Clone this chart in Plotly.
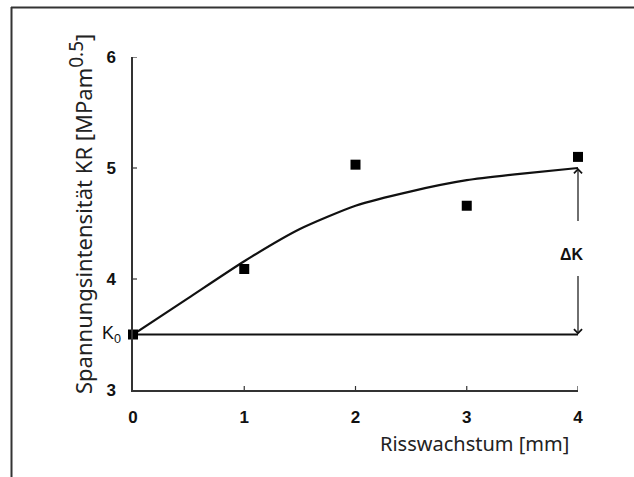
import plotly.graph_objects as go

# Data
meas_x = [0, 1, 2, 3, 4]
meas_y = [3.5, 4.09, 5.03, 4.66, 5.10]

curve_x = [0, 0.5, 1, 1.5, 2, 2.5, 3, 3.5, 4]
curve_y = [3.5, 3.83, 4.16, 4.45, 4.66, 4.79, 4.89, 4.95, 5.00]

k0 = 3.5
k_end = 5.00
base_x = [0, 4]

x_ticks = [0, 1, 2, 3, 4]
y_ticks = [3, 4, 5, 6]

x_title = "Risswachstum [mm]"
y_title = "Spannungsintensität KR [MPam<sup><span style='font-size:19px'>0.5</span></sup>]"

W, H = 634, 477
L, R, T, B = 133, 56, 57, 87
pw = W - L - R
ph = H - T - B

def px_to_paper_x(px):
    return (px - L) / pw

def px_to_paper_y(py):
    return (H - B - py) / ph

line_col = "#111111"
axis_col = "#333333"

fig = go.Figure()

fig.add_trace(go.Scatter(x=base_x, y=[k0, k0], mode="lines",
                         line=dict(color=line_col, width=2), cliponaxis=False,
                         hoverinfo="skip", showlegend=False))
fig.add_trace(go.Scatter(x=curve_x, y=curve_y, mode="lines",
                         line=dict(color=line_col, width=2.2, shape="spline", smoothing=0.6),
                         cliponaxis=False, showlegend=False))
fig.add_trace(go.Scatter(x=meas_x, y=meas_y, mode="markers",
                         marker=dict(symbol="square", size=10, color="black"),
                         cliponaxis=False, showlegend=False))

shapes = []
# crossing tick marks
for v in x_ticks[1:]:
    shapes.append(dict(type="line", xref="x", yref="y", ysizemode="pixel", yanchor=y_ticks[0],
                       x0=v, x1=v, y0=-4, y1=4, line=dict(color=axis_col, width=1.2)))
for v in y_ticks[1:]:
    shapes.append(dict(type="line", xref="x", yref="y", xsizemode="pixel", xanchor=x_ticks[0],
                       y0=v, y1=v, x0=-4, x1=4, line=dict(color=axis_col, width=1.2)))
# outer frame (top and left)
shapes.append(dict(type="line", xref="paper", yref="paper",
                   x0=px_to_paper_x(11), x1=px_to_paper_x(640),
                   y0=px_to_paper_y(7.5), y1=px_to_paper_y(7.5),
                   line=dict(color="#333333", width=2)))
shapes.append(dict(type="line", xref="paper", yref="paper",
                   x0=px_to_paper_x(11.5), x1=px_to_paper_x(11.5),
                   y0=px_to_paper_y(7), y1=px_to_paper_y(480),
                   line=dict(color="#333333", width=2)))

annotations = [
    dict(text=y_title, textangle=-90, xref="paper", yref="paper",
         x=px_to_paper_x(80), y=px_to_paper_y(214), showarrow=False,
         xanchor="center", yanchor="middle",
         font=dict(family="Noto Sans", size=22, color="#222222")),
    dict(text=x_title, xref="paper", yref="paper",
         x=px_to_paper_x(474), y=px_to_paper_y(443), showarrow=False,
         xanchor="center", yanchor="middle",
         font=dict(family="Noto Sans", size=20, color="#222222")),
    dict(text="K<sub>0</sub>", xref="x", yref="y", x=0, y=k0, xanchor="right",
         yanchor="middle", xshift=-10, showarrow=False,
         font=dict(family="Liberation Sans", size=18, color="#111111")),
    dict(text="<b>ΔK</b>", xref="x", yref="y", x=base_x[1], y=(k0 + k_end) / 2 - 0.03,
         xanchor="center", yanchor="middle", xshift=-6, showarrow=False,
         font=dict(family="Liberation Sans", size=16, color="#111111")),
    dict(text="", xref="x", yref="y", axref="x", ayref="y",
         x=base_x[1], y=k_end, ax=base_x[1], ay=4.51, showarrow=True,
         arrowhead=4, arrowsize=1.3, arrowwidth=1.2, arrowcolor=line_col),
    dict(text="", xref="x", yref="y", axref="x", ayref="y",
         x=base_x[1], y=k0, ax=base_x[1], ay=4.04, showarrow=True,
         arrowhead=4, arrowsize=1.3, arrowwidth=1.2, arrowcolor=line_col),
]

fig.update_layout(
    width=W, height=H,
    margin=dict(l=L, r=R, t=T, b=B),
    paper_bgcolor="white", plot_bgcolor="white",
    shapes=shapes, annotations=annotations,
    xaxis=dict(range=[0, 4], tickvals=x_ticks, showgrid=False, zeroline=False,
               showline=True, linecolor=axis_col, linewidth=1.5, ticks="",
               ticklabelstandoff=11,
               tickfont=dict(family="Liberation Sans", size=17, color="#111111", weight="bold")),
    yaxis=dict(range=[3, 6], tickvals=y_ticks, showgrid=False, zeroline=False,
               showline=True, linecolor=axis_col, linewidth=1.5, ticks="",
               ticklabelstandoff=12,
               tickfont=dict(family="Liberation Sans", size=17, color="#111111", weight="bold")),
)

fig.write_html("out.html")
